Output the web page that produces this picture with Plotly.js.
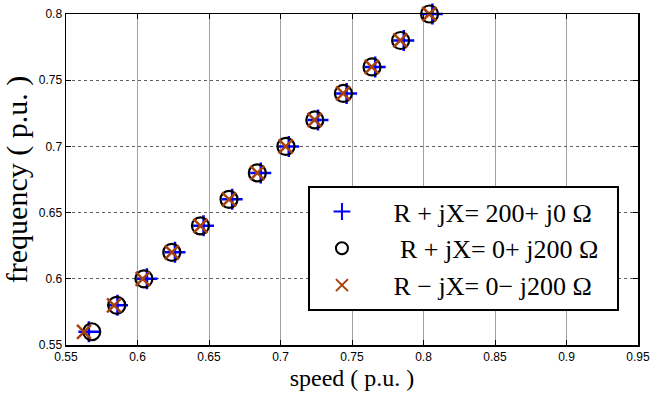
<!DOCTYPE html>
<html><head><meta charset="utf-8">
<script src="https://cdn.plot.ly/plotly-3.0.1.min.js"></script>
<style>html,body{margin:0;padding:0;background:#fff}#c{width:651px;height:400px}</style>
</head><body><div id="c"></div>
<script>
const freq = [0.56,0.58,0.60,0.62,0.64,0.66,0.68,0.70,0.72,0.74,0.76,0.78,0.80];
const speedPlus = [0.566,0.586,0.6066,0.6262,0.6462,0.6662,0.6862,0.7058,0.7262,0.7462,0.7662,0.7862,0.8062];
const speedO = [0.568,0.5855,0.6045,0.624,0.644,0.664,0.6838,0.7038,0.724,0.744,0.764,0.784,0.8042];
const speedX = [0.5626,0.5836,0.6036,0.624,0.644,0.664,0.6838,0.7036,0.7238,0.7438,0.7638,0.7838,0.804];
const names = ['\u00a0\u00a0\u00a0R + jX= 200+ j0 \u03a9\u00a0\u00a0\u00a0',
               '\u00a0\u00a0\u00a0\u00a0R + jX= 0+ j200 \u03a9',
               '\u00a0\u00a0\u00a0R \u2212 jX= 0\u2212 j200 \u03a9'];
const traces = [
 {x:speedPlus,y:freq,name:names[0],legendgroup:'a',mode:'markers',cliponaxis:false,
  marker:{symbol:'cross-thin-open',size:15,color:'#0000ff',line:{color:'#0000ff',width:2.5}}},
 {x:speedO,y:freq,name:names[1],legendgroup:'b',mode:'markers',cliponaxis:false,
  marker:{symbol:'circle-open',size:17,color:'#000',line:{color:'#000',width:2.2}}},
 {x:speedX,y:freq,name:names[2],legendgroup:'c',mode:'markers',cliponaxis:false,
  marker:{symbol:'x-thin-open',size:14,color:'#a8420c',line:{color:'#a8420c',width:2.5}}}
];
const tickFont = {family:'Liberation Sans, Arial, sans-serif',size:12,color:'#000'};
const serif = 'Liberation Serif, Times New Roman, serif';
const layout = {
 width:651,height:400,margin:{l:66,r:13,t:14,b:55},
 paper_bgcolor:'#fff',plot_bgcolor:'#fff',showlegend:true,
 xaxis:{range:[0.55,0.95],dtick:0.05,tick0:0.55,showgrid:true,gridcolor:'#a0a0a0',gridwidth:1,
  zeroline:false,showline:true,linecolor:'#000',linewidth:1.5,mirror:'ticks',ticks:'inside',ticklen:5,
  tickcolor:'#000',tickfont:tickFont,title:{text:'speed ( p.u. )',font:{family:serif,size:24,color:'#000'},standoff:6}},
 yaxis:{range:[0.55,0.8],dtick:0.05,tick0:0.55,showgrid:true,gridcolor:'#606060',griddash:'dot',gridwidth:1,
  zeroline:false,showline:true,linecolor:'#000',linewidth:1.5,mirror:'ticks',ticks:'inside',ticklen:5,
  tickcolor:'#000',tickfont:tickFont,title:{text:'frequency ( p.u. )',font:{family:serif,size:30,color:'#000'},standoff:6}},
 legend:{x:0.423,y:0.48,xanchor:'left',yanchor:'top',bgcolor:'#fff',bordercolor:'#000',borderwidth:2,
  font:{family:serif,size:26,color:'#000'},tracegroupgap:0,itemsizing:'constant',itemwidth:54}
};
Plotly.newPlot('c',traces,layout,{displayModeBar:false,staticPlot:true});
</script></body></html>
